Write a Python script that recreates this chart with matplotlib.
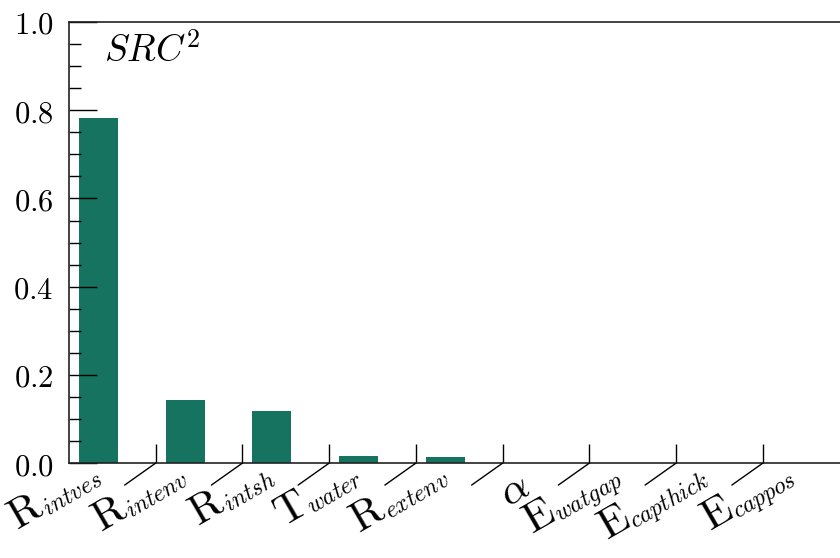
import numpy as np
import matplotlib
matplotlib.use("Agg")
import matplotlib.pyplot as plt
from matplotlib.ticker import MultipleLocator, FixedLocator

plt.rcParams["mathtext.fontset"] = "cm"
plt.rcParams["font.family"] = "serif"

# data
# each x label is a roman symbol plus an italic subscript
symbols = ["R", "R", "R", "T", "R", r"\alpha", "E", "E", "E"]
subscripts = ["intves", "intenv", "intsh", "water", "extenv", "",
              "watgap", "capthick", "cappos"]
src2 = [0.782, 0.143, 0.118, 0.016, 0.0135, 0.0, 0.0, 0.0, 0.0]
yticks = [0.0, 0.2, 0.4, 0.6, 0.8, 1.0]

bar_color = "#157360"
x = np.arange(len(symbols))

fig = plt.figure(figsize=(8.4, 5.58), dpi=100)
ax = fig.add_axes([0.082, 0.170, 0.918, 0.7906])

ax.bar(x, src2, width=0.45, color=bar_color)

ax.set_xlim(-0.34, 8.55)
ax.set_ylim(0, 1.0)

# y axis
ax.set_yticks(yticks)
ax.set_yticklabels([f"${v:.1f}$" for v in yticks], fontsize=22)
ax.yaxis.set_minor_locator(MultipleLocator(0.05))
ax.tick_params(axis="y", which="major", direction="in", length=20, width=1, pad=11)
ax.tick_params(axis="y", which="minor", direction="in", length=8.5, width=1)

# x axis: tick marks between bars, labels drawn by hand below
ax.set_xticks(x)
ax.tick_params(axis="x", which="major", length=0, labelbottom=False)
sep = x[:-1] + 0.66
ax.xaxis.set_minor_locator(FixedLocator(sep))
ax.tick_params(axis="x", which="minor", direction="in", length=13.5, width=1)
for t in sep:
    ax.annotate("", xy=(t, 0), xycoords=ax.get_xaxis_transform(),
                xytext=(-22.3, -15.8), textcoords="offset points",
                arrowprops=dict(arrowstyle="-", lw=1, color="black",
                                shrinkA=0, shrinkB=0),
                annotation_clip=False)

# rotated labels: big roman symbol with a smaller italic subscript
rot = 30
c, s = np.cos(np.radians(rot)), np.sin(np.radians(rot))
main_fs, sub_fs, drop = 31, 17, 2.5
renderer = fig.canvas.get_renderer()
xtrans = ax.get_xaxis_transform()
for xi, sym, sub in zip(x, symbols, subscripts):
    if sub:
        sub_off = np.array([4.3, -15.1])
        tmp = fig.text(0, 0, f"${sub}$", fontsize=sub_fs)
        w = tmp.get_window_extent(renderer).width * 72 / fig.dpi
        tmp.remove()
        ax.annotate(f"${sub}$", xy=(xi, 0), xycoords=xtrans,
                    xytext=sub_off, textcoords="offset points",
                    fontsize=sub_fs, rotation=rot, rotation_mode="anchor",
                    ha="right", va="baseline", annotation_clip=False)
        main_off = sub_off - w * np.array([c, s]) + drop * np.array([-s, c])
    else:
        main_off = np.array([0.0, -21.6])
    ax.annotate(rf"$\mathrm{{{sym}}}$" if len(sym) == 1 else f"${sym}$",
                xy=(xi, 0), xycoords=xtrans,
                xytext=main_off, textcoords="offset points",
                fontsize=main_fs, rotation=rot, rotation_mode="anchor",
                ha="right", va="baseline", annotation_clip=False)

ax.spines["right"].set_visible(False)
for sp in ["left", "top", "bottom"]:
    ax.spines[sp].set_linewidth(1.2)
    ax.spines[sp].set_color("#222222")

ax.text(0.046, 0.975, r"$SRC^2$", transform=ax.transAxes, fontsize=27,
        va="top", ha="left")

fig.savefig("out.png", dpi=100)
